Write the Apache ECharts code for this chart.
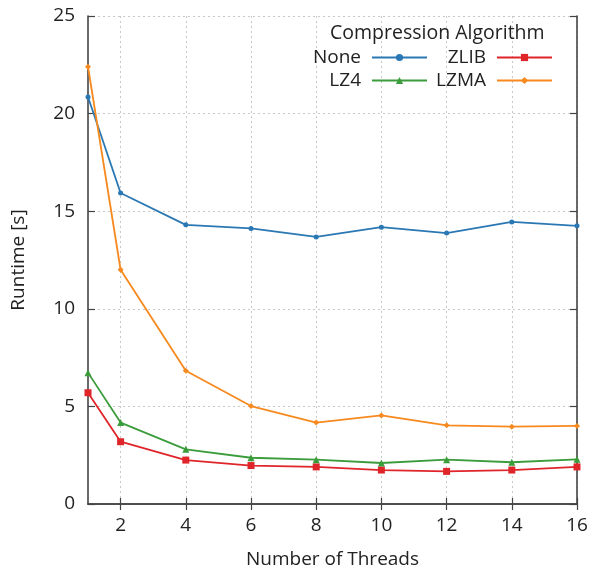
<!DOCTYPE html>
<html>
<head>
<meta charset="utf-8">
<script src="https://cdn.jsdelivr.net/npm/echarts@6/dist/echarts.min.js"></script>
<style>html,body{margin:0;padding:0;background:#fff;}#c{width:593px;height:569px;}</style>
</head>
<body>
<div id="c"></div>
<script>
const threads = [1, 2, 4, 6, 8, 10, 12, 14, 16];
const xTicks = [2, 4, 6, 8, 10, 12, 14, 16];
const yTicks = [0, 5, 10, 15, 20, 25];
const noneVals = [20.85, 15.93, 14.3, 14.12, 13.68, 14.18, 13.88, 14.45, 14.25];
const zlibVals = [5.7, 3.19, 2.25, 1.97, 1.9, 1.74, 1.67, 1.74, 1.9];
const lz4Vals = [6.73, 4.17, 2.8, 2.37, 2.27, 2.1, 2.27, 2.14, 2.29];
const lzmaVals = [22.4, 12.0, 6.83, 5.02, 4.17, 4.54, 4.03, 3.96, 4.0];

const FONT = 'Open Sans';
const FS = 19;
const pair = v => threads.map((t, i) => [t, v[i]]);
const chart = echarts.init(document.getElementById('c'));
const axisLine = { show: true, lineStyle: { color: '#444', width: 1.6 } };
const split = { show: true, lineStyle: { color: '#c8c8c8', type: [2, 3], width: 1 } };
function mkSeries(name, data, color, symbol, size) {
  return { name, type: 'line', data: pair(data), symbol, symbolSize: size,
    lineStyle: { color, width: 1.8 }, itemStyle: { color }, emphasis: { disabled: true }, z: 3 };
}
function mkLegend(name, right, top) {
  return { data: [name], right, top, align: 'right', itemWidth: 55, itemHeight: 9, itemGap: 0,
    padding: 0, selectedMode: false,
    textStyle: { fontFamily: FONT, fontSize: FS, color: '#222', padding: [0, 6, 0, 0] } };
}
chart.setOption({
  animation: false,
  backgroundColor: '#fff',
  title: { text: 'Compression Algorithm', left: 330, top: 23, padding: 0,
    textStyle: { fontFamily: FONT, fontSize: 19.5, fontWeight: 'normal', color: '#222' } },
  legend: [
    mkLegend('None', 165, 48),
    mkLegend('ZLIB', 40, 48),
    mkLegend('LZ4', 165, 71),
    mkLegend('LZMA', 40, 71)
  ],
  grid: { left: 88, right: 16, top: 16, bottom: 65, containLabel: false, outerBoundsMode: 'none' },
  xAxis: [
    { type: 'value', min: 1, max: 16, position: 'bottom',
      name: 'Number of Threads', nameLocation: 'middle', nameGap: 46,
      nameTextStyle: { fontFamily: FONT, fontSize: FS, color: '#222' },
      axisLine, axisTick: { show: true, inside: true, length: 6, customValues: xTicks, lineStyle: { color: '#444', width: 1.2 } },
      axisLabel: { customValues: xTicks, fontFamily: FONT, fontSize: FS, color: '#222', margin: 12 },
      splitLine: split },
    { type: 'value', min: 1, max: 16, position: 'top',
      axisLine, axisTick: { show: true, inside: true, length: 6, customValues: xTicks, lineStyle: { color: '#444', width: 1.2 } },
      axisLabel: { show: false }, splitLine: { show: false } }
  ],
  yAxis: [
    { type: 'value', min: 0, max: 25, interval: 5, position: 'left',
      name: 'Runtime [s]', nameLocation: 'middle', nameGap: 60, nameRotate: 90,
      nameTextStyle: { fontFamily: FONT, fontSize: FS, color: '#222' },
      axisLine, axisTick: { show: true, inside: true, length: 7, lineStyle: { color: '#444', width: 1.2 } },
      axisLabel: { fontFamily: FONT, fontSize: FS, color: '#222', margin: 13 },
      splitLine: split },
    { type: 'value', min: 0, max: 25, interval: 5, position: 'right',
      axisLine, axisTick: { show: true, inside: true, length: 7, lineStyle: { color: '#444', width: 1.2 } },
      axisLabel: { show: false }, splitLine: { show: false } }
  ],
  series: [
    mkSeries('None', noneVals, '#2a78b3', 'circle', 5),
    mkSeries('ZLIB', zlibVals, '#e0252a', 'rect', 7),
    mkSeries('LZ4', lz4Vals, '#3b9c3b', 'triangle', 7),
    mkSeries('LZMA', lzmaVals, '#f7891e', 'diamond', 6)
  ]
});
</script>
</body>
</html>
